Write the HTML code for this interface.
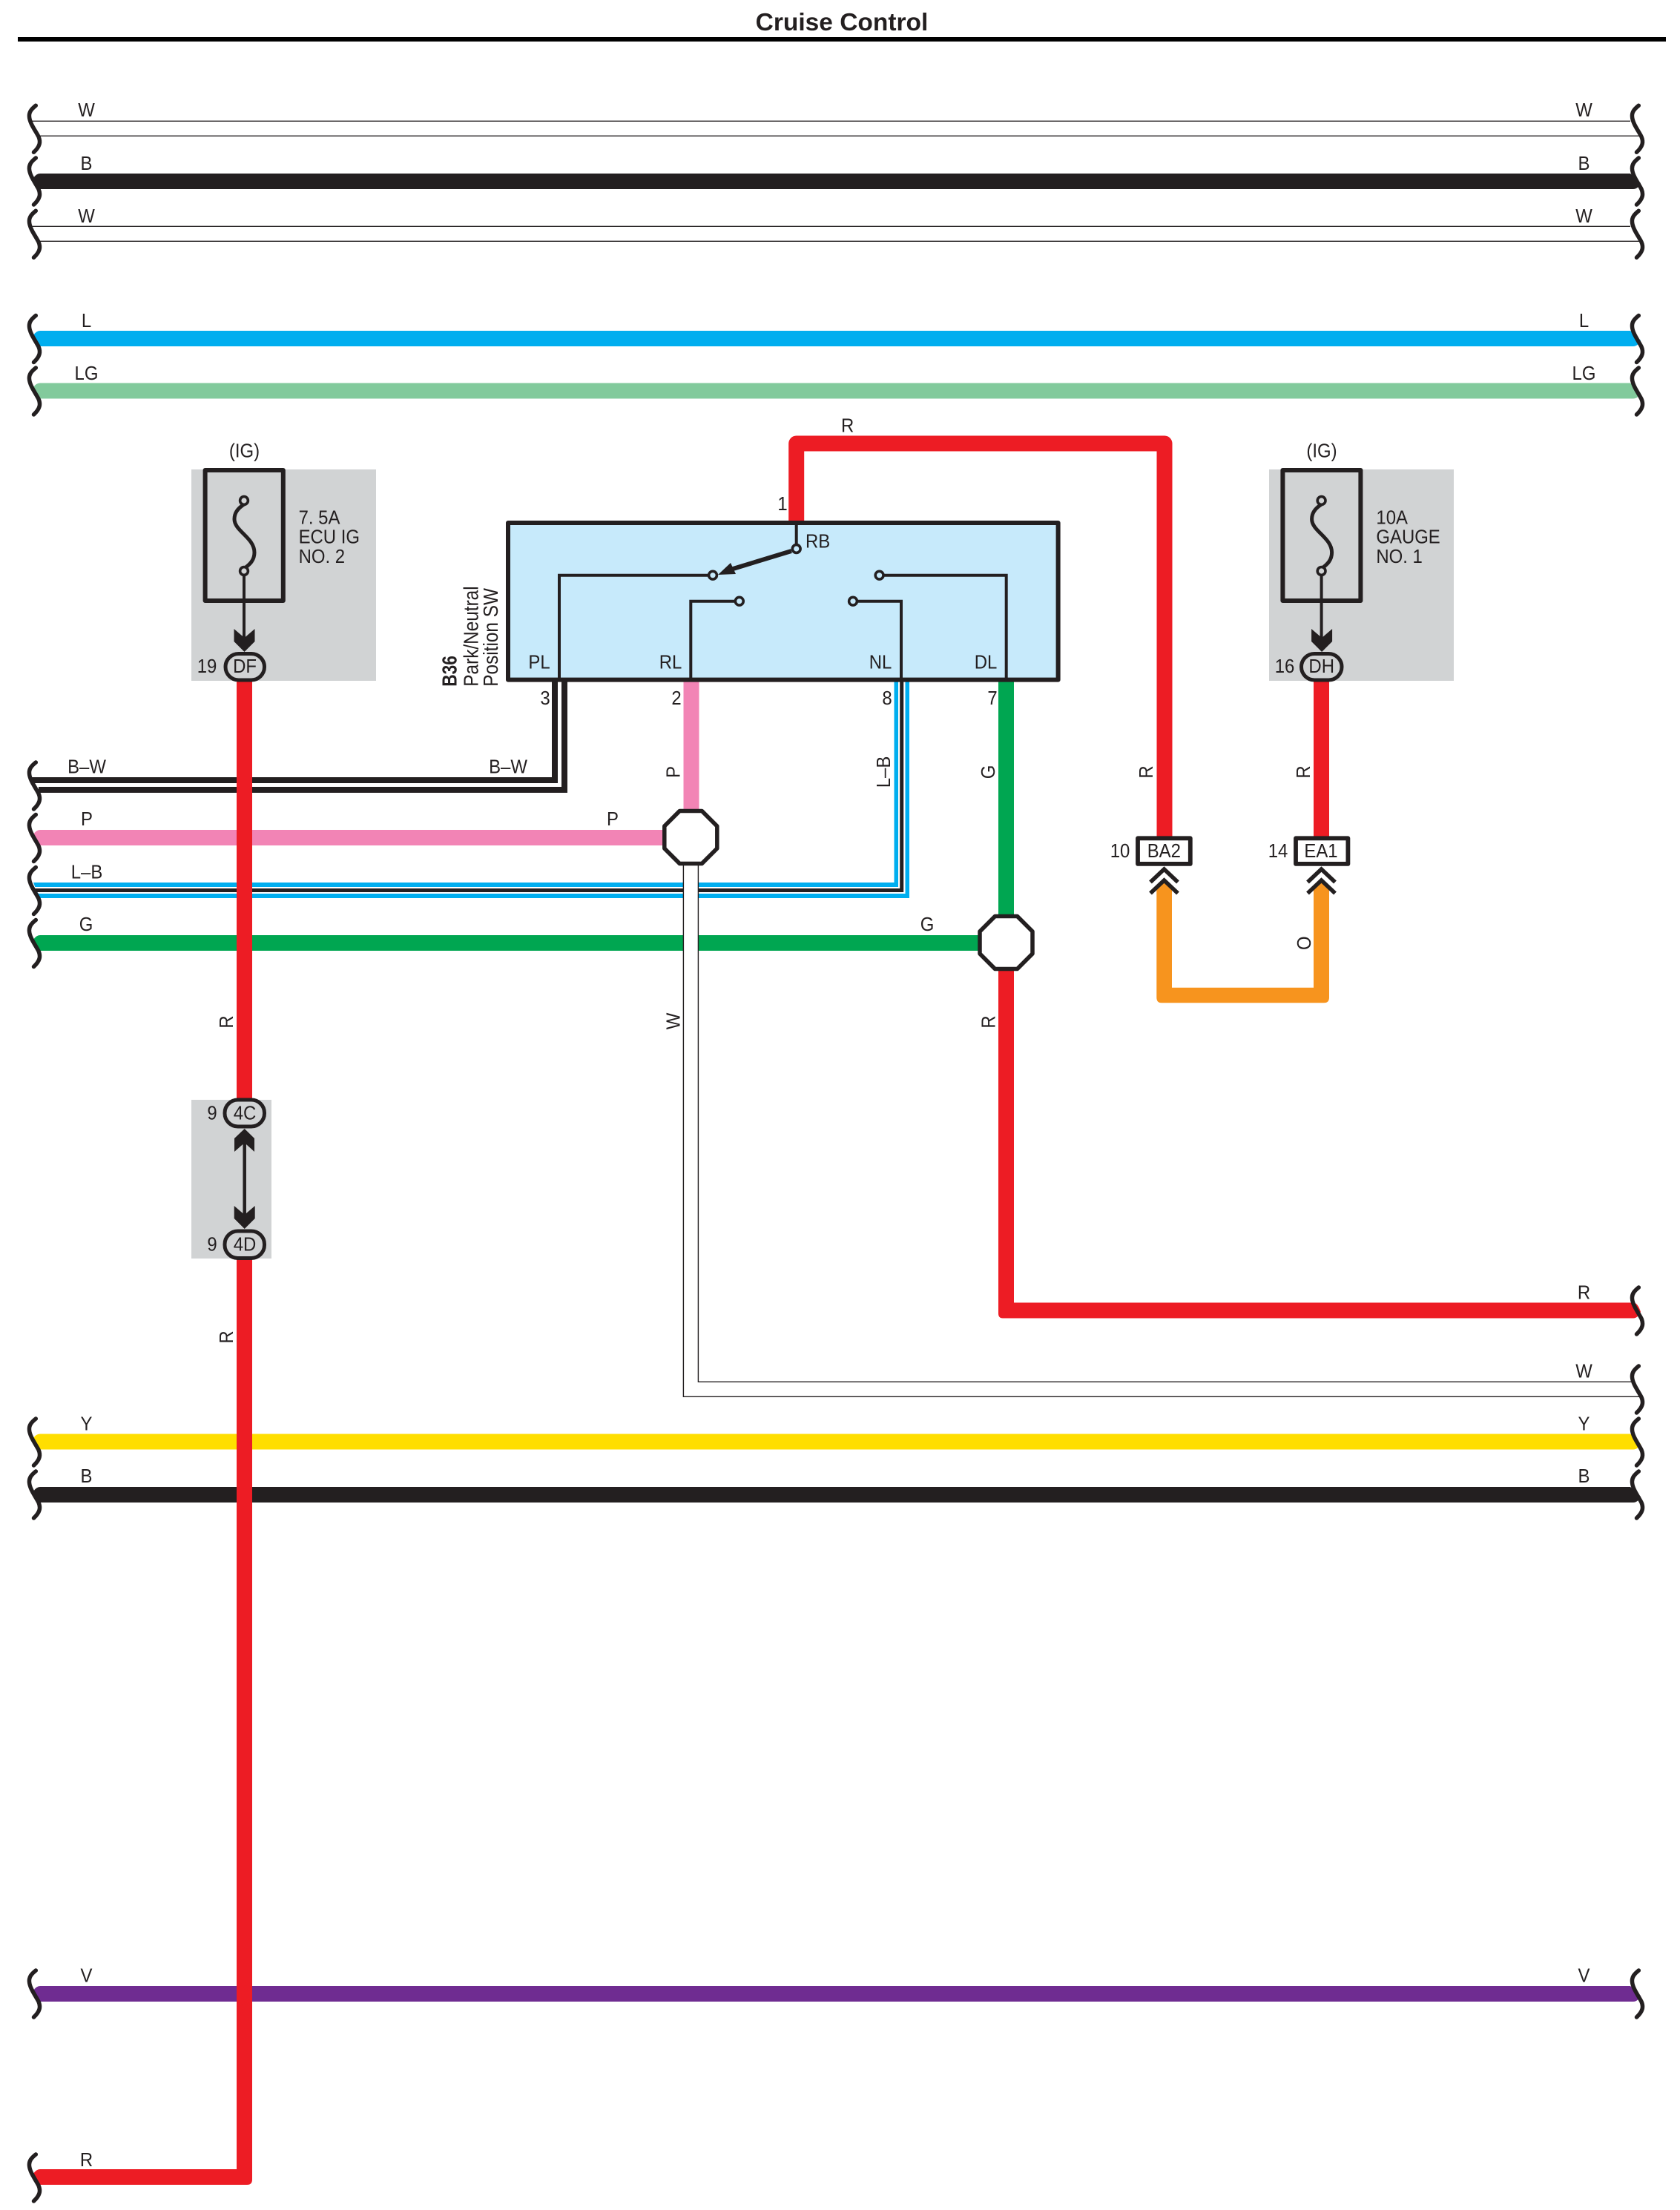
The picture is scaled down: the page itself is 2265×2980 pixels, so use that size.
<!DOCTYPE html>
<html><head><meta charset="utf-8"><title>Cruise Control</title>
<style>
html,body{margin:0;padding:0;background:#fff}
svg{display:block}
text{font-family:"Liberation Sans",sans-serif;font-size:26px;fill:#231f20;text-anchor:middle}
text.s{text-anchor:start}
.br{fill:none;stroke:#231f20;stroke-width:5.5;stroke-linecap:round}
.w{fill:none;stroke-linejoin:round;stroke-width:21}
.k{fill:none;stroke:#231f20;stroke-width:4}
.c{stroke:#231f20;stroke-width:3.6}
.ln{stroke:#231f20;stroke-width:1.4;fill:none}
</style></head><body>
<svg xmlns="http://www.w3.org/2000/svg" width="2265" height="2980" viewBox="0 0 2265 2980">
<defs>
<path id="b" class="br" d="M48.3 -31 C42 -26 39 -22 39.5 -16 C40 -7 48 3 52 11 C55 18 54 24 45.5 32"/>
<path id="ad" fill="#231f20" d="M-14 -31 L0 -19 L14 -31 V-14 L0 0 L-14 -14 Z"/>
<g id="fuse">
<path fill="none" stroke="#231f20" stroke-width="5" d="M329 680 C320 686 316 692 316 700 C316 716 343 725 343 745 C343 755 337 761 330 766"/>
<circle cx="329" cy="675" r="5.4" fill="#d1d3d4" class="c"/>
<circle cx="329" cy="770" r="5.4" fill="#d1d3d4" class="c"/>
<path stroke="#231f20" stroke-width="4" d="M329 775V860"/>
<use href="#ad" x="329.5" y="879"/>
</g>
<path id="oct" fill="#fff" stroke="#231f20" stroke-width="5.5" stroke-linejoin="round" d="M-15 -35.5H15L35.5 -15V15L15 35.5H-15L-35.5 15V-15Z"/>
<g id="chev" fill="none" stroke="#231f20" stroke-width="5.5">
<path d="M-18.5 19L0 1.5L18.5 19"/>
<path d="M-18.5 34L0 16.5L18.5 34"/>
</g>
</defs>

<rect width="2265" height="2980" fill="#fff"/>
<text x="1135" y="41" style="font-weight:bold;font-size:33.5px">Cruise Control</text>
<rect x="24" y="50" width="2222" height="6" fill="#000"/>

<!-- gray zones -->
<rect x="258" y="633" width="249" height="285" fill="#d1d3d4"/>
<rect x="1711" y="633" width="249" height="285" fill="#d1d3d4"/>
<rect x="258" y="1483" width="108" height="214" fill="#d1d3d4"/>

<!-- through wires -->
<path class="ln" d="M43 163.3H2198M53 183.3H2210M43 305.3H2198M53 325.3H2210"/>
<path fill="#231f20" d="M54 234Q49 234 45 240L53 255H2202Q2208 255 2212 247L2198 234Z"/>
<path fill="#00aeef" d="M54 446Q49 446 45 452L53 467H2202Q2208 467 2212 459L2198 446Z"/>
<path fill="#82ca9c" d="M54 516.5Q49 516.5 45 522L53 537.5H2202Q2208 537.5 2212 530L2198 516.5Z"/>
<path fill="#ffde00" d="M54 1933.5Q49 1933.5 45 1939L53 1954.5H2202Q2208 1954.5 2212 1947L2198 1933.5Z"/>
<path fill="#231f20" d="M54 2005Q49 2005 45 2011L53 2026H2202Q2208 2026 2212 2018L2198 2005Z"/>
<path fill="#6f2c91" d="M54 2678Q49 2678 45 2684L53 2699H2202Q2208 2699 2212 2691L2198 2678Z"/>

<!-- B-W -->
<path fill="none" stroke="#231f20" stroke-width="8" d="M43 1052H748V919"/>
<path fill="none" stroke="#231f20" stroke-width="8" d="M52 1065H761V919"/>
<!-- P -->
<path fill="#f284b5" d="M54 1119Q49 1119 45 1125L53 1140H900V1119Z"/>
<rect x="921.5" y="915" width="21" height="180" fill="#f284b5"/>
<!-- L-B -->
<path fill="#00aeef" d="M45 1190H1205.5V919H1226V1211H53Z"/>
<path fill="#fff" d="M45 1196H1211V919H1220.5V1205H52Z"/>
<path fill="none" stroke="#231f20" stroke-width="5" d="M47 1200.5H1215.7V919"/>
<!-- G -->
<path fill="#00a651" d="M54 1261Q49 1261 45 1267L53 1282H1325V1261Z"/>
<rect x="1346" y="915" width="21" height="325" fill="#00a651"/>
<!-- W channel -->
<rect x="921.4" y="1165" width="20" height="718" fill="#fff"/>
<path class="ln" d="M921.4 1165V1883.3H2210M941.4 1165V1863.3H2199"/>
<!-- red runs -->
<path class="w" stroke="#ed1c24" d="M1073.7 710V598H1570V1130"/>
<path class="w" stroke="#ed1c24" d="M1781.5 915V1130"/>
<path fill="#ed1c24" d="M1346 1300H1367V1756.5H2202Q2208 1756.5 2212 1769Q2208 1777.5 2202 1777.5H1352Q1346 1777.5 1346 1771Z"/>
<rect x="319" y="915" width="21" height="570" fill="#ed1c24"/>
<path fill="#ed1c24" d="M319 1695H340V2939Q340 2946 333 2946H53L45 2931Q49 2925 54 2925H319Z"/>
<!-- orange -->
<path fill="#f7941e" d="M1559.3 1200L1569.5 1189L1580 1200V1331.7H1771V1200L1781.5 1189L1792 1200V1345Q1792 1352.3 1785 1352.3H1566Q1559.3 1352.3 1559.3 1345Z"/>

<!-- switch box -->
<rect x="685" y="705" width="741.6" height="211.6" fill="#c7eafb" stroke="#231f20" stroke-width="6" stroke-linejoin="round"/>
<path class="k" d="M1073.7 705V735"/>
<path class="k" d="M754 918V775.7H955"/>
<path class="k" d="M931.3 918V810.7H991"/>
<path class="k" d="M1215 918V810.7H1156"/>
<path class="k" d="M1356.7 918V775.7H1191"/>
<path fill="none" stroke="#231f20" stroke-width="6" d="M1067 743L985 768"/>
<path fill="#231f20" d="M968 775L985 759L992 774Z"/>
<g fill="#c7eafb" class="c">
<circle cx="1073.7" cy="740" r="5.4"/>
<circle cx="961" cy="775.7" r="5.4"/>
<circle cx="996.8" cy="810.7" r="5.4"/>
<circle cx="1150" cy="810.7" r="5.4"/>
<circle cx="1185.6" cy="775.7" r="5.4"/>
</g>

<!-- octagons -->
<use href="#oct" x="931.3" y="1129"/>
<use href="#oct" x="1356.5" y="1271"/>

<!-- fuses -->
<rect x="276.6" y="634" width="105.2" height="176" fill="none" stroke="#231f20" stroke-width="6" stroke-linejoin="round"/>
<use href="#fuse"/>
<rect x="1729.4" y="634" width="105" height="176" fill="none" stroke="#231f20" stroke-width="6" stroke-linejoin="round"/>
<use href="#fuse" x="1452.6"/>

<!-- ovals -->
<rect x="304" y="881.5" width="52.5" height="35.5" rx="17.7" fill="#d1d3d4" stroke="#231f20" stroke-width="5"/>
<rect x="1754.5" y="881.5" width="54.5" height="35.5" rx="17.7" fill="#d1d3d4" stroke="#231f20" stroke-width="5"/>
<rect x="303" y="1483" width="53.5" height="36" rx="17.7" fill="#d1d3d4" stroke="#231f20" stroke-width="5"/>
<rect x="303" y="1660" width="53.5" height="36.5" rx="17.7" fill="#d1d3d4" stroke="#231f20" stroke-width="5"/>
<!-- 4C/4D arrows -->
<path stroke="#231f20" stroke-width="4.5" d="M329.7 1530V1650"/>
<path fill="#231f20" d="M329.7 1522L343 1535V1553L329.7 1541L316 1553V1535Z"/>
<use href="#ad" x="329.7" y="1657"/>

<!-- rect connectors -->
<rect x="1534" y="1130.3" width="70.8" height="34.6" fill="#fff" stroke="#231f20" stroke-width="5.8" stroke-linejoin="round"/>
<rect x="1747" y="1130.3" width="70.4" height="34.6" fill="#fff" stroke="#231f20" stroke-width="5.8" stroke-linejoin="round"/>
<use href="#chev" x="1569.5" y="1170.5"/>
<use href="#chev" x="1781.5" y="1170.5"/>

<!-- left braces -->
<use href="#b" y="173.3"/><use href="#b" y="244"/><use href="#b" y="315.3"/>
<use href="#b" y="456.5"/><use href="#b" y="527"/>
<use href="#b" y="1059"/><use href="#b" y="1129.5"/><use href="#b" y="1200.5"/><use href="#b" y="1271.5"/>
<use href="#b" y="1944"/><use href="#b" y="2015"/><use href="#b" y="2688"/><use href="#b" y="2936"/>
<!-- right braces -->
<use href="#b" x="2161" y="173.3"/><use href="#b" x="2161" y="244"/><use href="#b" x="2161" y="315.3"/>
<use href="#b" x="2161" y="456.5"/><use href="#b" x="2161" y="527"/>
<use href="#b" x="2161" y="1767"/><use href="#b" x="2161" y="1873"/><use href="#b" x="2161" y="1944"/><use href="#b" x="2161" y="2015"/><use href="#b" x="2161" y="2688"/>

<!-- left labels -->
<text transform="translate(116.5 157) scale(.92 1)">W</text>
<text transform="translate(116.5 229) scale(.92 1)">B</text>
<text transform="translate(116.5 300) scale(.92 1)">W</text>
<text transform="translate(116.5 441) scale(.92 1)">L</text>
<text transform="translate(116.5 512) scale(.92 1)">LG</text>
<text transform="translate(117 1042.7) scale(.92 1)">B–W</text>
<text transform="translate(117 1113) scale(.92 1)">P</text>
<text transform="translate(117 1184.3) scale(.92 1)">L–B</text>
<text transform="translate(116 1255) scale(.92 1)">G</text>
<text transform="translate(116.5 1928.3) scale(.92 1)">Y</text>
<text transform="translate(116.5 1999) scale(.92 1)">B</text>
<text transform="translate(116.5 2672.7) scale(.92 1)">V</text>
<text transform="translate(116.5 2921) scale(.92 1)">R</text>
<!-- right labels -->
<text transform="translate(2135.5 157) scale(.92 1)">W</text>
<text transform="translate(2135.5 229) scale(.92 1)">B</text>
<text transform="translate(2135.5 300) scale(.92 1)">W</text>
<text transform="translate(2135.5 441) scale(.92 1)">L</text>
<text transform="translate(2135.5 512) scale(.92 1)">LG</text>
<text transform="translate(2135.5 1751.7) scale(.92 1)">R</text>
<text transform="translate(2135.5 1857.7) scale(.92 1)">W</text>
<text transform="translate(2135.5 1928.3) scale(.92 1)">Y</text>
<text transform="translate(2135.5 1999) scale(.92 1)">B</text>
<text transform="translate(2135.5 2672.7) scale(.92 1)">V</text>
<!-- mid labels -->
<text transform="translate(685 1042.7) scale(.92 1)">B–W</text>
<text transform="translate(826 1113) scale(.92 1)">P</text>
<text transform="translate(1250 1255) scale(.92 1)">G</text>
<text transform="translate(1142.6 582.7) scale(.92 1)">R</text>
<text transform="translate(1055 688) scale(.92 1)">1</text>
<!-- vertical labels -->
<text transform="translate(916.6 1041) rotate(-90) scale(.92 1)">P</text>
<text transform="translate(1200 1041) rotate(-90) scale(.92 1)">L–B</text>
<text transform="translate(1341 1041) rotate(-90) scale(.92 1)">G</text>
<text transform="translate(1554 1041) rotate(-90) scale(.92 1)">R</text>
<text transform="translate(1766 1041) rotate(-90) scale(.92 1)">R</text>
<text transform="translate(1767 1271.7) rotate(-90) scale(.92 1)">O</text>
<text transform="translate(314 1378) rotate(-90) scale(.92 1)">R</text>
<text transform="translate(314 1803) rotate(-90) scale(.92 1)">R</text>
<text transform="translate(916.4 1377) rotate(-90) scale(.92 1)">W</text>
<text transform="translate(1341.4 1378) rotate(-90) scale(.92 1)">R</text>
<!-- fuse labels -->
<text transform="translate(329.5 616.7) scale(.92 1)">(IG)</text>
<text transform="translate(1782 616.7) scale(.92 1)">(IG)</text>
<text class="s" transform="translate(402.6 706.7) scale(.92 1)">7. 5A</text>
<text class="s" transform="translate(402.6 732.7) scale(.92 1)">ECU IG</text>
<text class="s" transform="translate(402.6 759) scale(.92 1)">NO. 2</text>
<text class="s" transform="translate(1855.4 706.7) scale(.92 1)">10A</text>
<text class="s" transform="translate(1855.4 732.7) scale(.92 1)">GAUGE</text>
<text class="s" transform="translate(1855.4 759) scale(.92 1)">NO. 1</text>
<text transform="translate(330 907) scale(.92 1)">DF</text>
<text transform="translate(279 907) scale(.92 1)">19</text>
<text transform="translate(1781.7 907) scale(.92 1)">DH</text>
<text transform="translate(1732 907) scale(.92 1)">16</text>
<text transform="translate(330 1509.3) scale(.92 1)">4C</text>
<text transform="translate(286 1509.3) scale(.92 1)">9</text>
<text transform="translate(330 1686.7) scale(.92 1)">4D</text>
<text transform="translate(286 1686.7) scale(.92 1)">9</text>
<text transform="translate(1569.3 1156) scale(.92 1)">BA2</text>
<text transform="translate(1510 1156) scale(.92 1)">10</text>
<text transform="translate(1781 1156) scale(.92 1)">EA1</text>
<text transform="translate(1723 1156) scale(.92 1)">14</text>
<!-- switch labels -->
<text class="s" transform="translate(1086 738.3) scale(.92 1)">RB</text>
<text transform="translate(727 901.7) scale(.92 1)">PL</text>
<text transform="translate(904 901.7) scale(.92 1)">RL</text>
<text transform="translate(1187 901.7) scale(.92 1)">NL</text>
<text transform="translate(1329 901.7) scale(.92 1)">DL</text>
<text transform="translate(735 950) scale(.92 1)">3</text>
<text transform="translate(912 950) scale(.92 1)">2</text>
<text transform="translate(1196 950) scale(.92 1)">8</text>
<text transform="translate(1338 950) scale(.92 1)">7</text>
<text class="s" style="font-weight:bold;font-size:28px" transform="translate(615.4 925.7) rotate(-90) scale(.81 1)">B36</text>
<text class="s" style="font-size:28px" transform="translate(644.4 925.7) rotate(-90) scale(.87 1)">Park/Neutral</text>
<text class="s" style="font-size:28px" transform="translate(671 925.7) rotate(-90) scale(.87 1)">Position SW</text>
</svg>
</body></html>
